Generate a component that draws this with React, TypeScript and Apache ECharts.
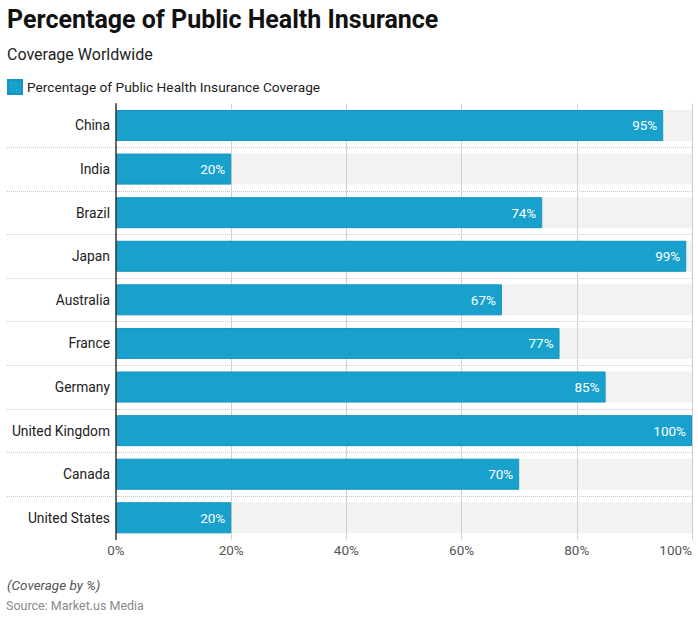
import React, { useEffect, useRef } from "react";
import * as echarts from "echarts";

const categories = [
  "China",
  "India",
  "Brazil",
  "Japan",
  "Australia",
  "France",
  "Germany",
  "United Kingdom",
  "Canada",
  "United States",
];
const coverageValues = [95, 20, 74, 99, 67, 77, 85, 100, 70, 20];
const seriesName = "Percentage of Public Health Insurance Coverage";
const axisMin = 0;
const axisMax = 100;
const axisInterval = 20;
const trackValues = categories.map(() => axisMax);

const titleText = "Percentage of Public Health Insurance";
const subtitleText = "Coverage Worldwide";
const noteText = "(Coverage by %)";
const sourceText = "Source: Market.us Media";

const FONT = "Roboto, 'Noto Sans', sans-serif";
const BAR_COLOR = "#18a1cd";

export default function App() {
  const ref = useRef<HTMLDivElement>(null);

  useEffect(() => {
    if (!ref.current) return;
    const chart = echarts.init(ref.current, undefined, { renderer: "svg" });
    const gridTop = 103.7;
    const gridBottom = 81.4;
    const option: any = {
      animation: false,
      backgroundColor: "#ffffff",
      textStyle: { fontFamily: FONT },
      title: [
        {
          text: titleText,
          left: 7,
          top: 7,
          padding: 0,
          textStyle: { fontFamily: FONT, fontSize: 25, fontWeight: "bold", color: "#111" },
        },
        {
          text: subtitleText,
          left: 7,
          top: 46,
          padding: 0,
          textStyle: { fontFamily: FONT, fontSize: 16, fontWeight: "normal", color: "#222" },
        },
      ],
      legend: {
        data: [seriesName],
        left: 7,
        top: 79,
        padding: 0,
        itemWidth: 14,
        itemHeight: 14,
        itemGap: 10,
        icon: "rect",
        textStyle: { fontFamily: FONT, fontSize: 13.7, color: "#222" },
      },
      graphic: [
        {
          type: "text",
          left: 7,
          top: 578,
          style: { text: noteText, fontFamily: FONT, fontSize: 13.5, fontStyle: "italic", fill: "#555" },
        },
        {
          type: "text",
          left: 6,
          top: 599,
          style: { text: sourceText, fontFamily: FONT, fontSize: 12.5, fill: "#8a8a8a" },
        },
      ],
      grid: [
        { left: 7, right: 6, top: gridTop, bottom: gridBottom, containLabel: false },
        { left: 116, right: 6, top: gridTop, bottom: gridBottom, containLabel: false },
      ],
      xAxis: [
        { type: "value", gridIndex: 0, show: false, min: 0, max: 1 },
        {
          type: "value",
          gridIndex: 1,
          min: axisMin,
          max: axisMax,
          interval: axisInterval,
          z: 2,
          axisLine: { show: false },
          axisTick: { show: false },
          axisLabel: {
            formatter: "{value}%",
            fontFamily: FONT,
            fontSize: 13.5,
            color: "#555",
            margin: 3,
            alignMaxLabel: "right",
          },
          splitLine: { show: true, showMinLine: false, lineStyle: { color: "#d0d0d0", width: 1 } },
        },
      ],
      yAxis: [
        {
          type: "category",
          gridIndex: 0,
          data: categories,
          inverse: true,
          axisLine: { show: false },
          axisTick: { show: false },
          axisLabel: { show: false },
          splitLine: {
            show: true,
            showMinLine: false,
            showMaxLine: false,
            lineStyle: { color: "#c8c8c8", type: "dotted", width: 1 },
          },
        },
        {
          type: "category",
          gridIndex: 1,
          data: categories,
          inverse: true,
          z: 4,
          axisLine: { show: true, lineStyle: { color: "#333", width: 1.5 } },
          axisTick: { show: false },
          axisLabel: { fontFamily: FONT, fontSize: 13.8, color: "#222", margin: 6 },
          splitLine: { show: false },
        },
      ],
      series: [
        {
          name: "track",
          type: "bar",
          xAxisIndex: 1,
          yAxisIndex: 1,
          data: trackValues,
          barWidth: 31,
          z: 1,
          silent: true,
          itemStyle: { color: "#f2f2f2" },
          label: { show: false },
          markLine: {
            silent: true,
            symbol: "none",
            label: { show: false },
            lineStyle: { color: "#c8c8c8", type: "dotted", width: 1 },
            data: [{ xAxis: axisMax }],
          },
        },
        {
          name: seriesName,
          type: "bar",
          xAxisIndex: 1,
          yAxisIndex: 1,
          data: coverageValues,
          barWidth: 31,
          barGap: "-100%",
          z: 3,
          itemStyle: { color: BAR_COLOR, borderColor: "#1594be", borderWidth: 1 },
          label: {
            show: true,
            position: "insideRight",
            distance: 6,
            formatter: "{c}%",
            color: "#fff",
            fontFamily: FONT,
            fontSize: 13.5,
          },
        },
      ],
    };
    chart.setOption(option);
    return () => chart.dispose();
  }, []);

  return (
    <div
      ref={ref}
      style={{ position: "fixed", left: 0, top: 0, width: 698, height: 621 }}
    />
  );
}
